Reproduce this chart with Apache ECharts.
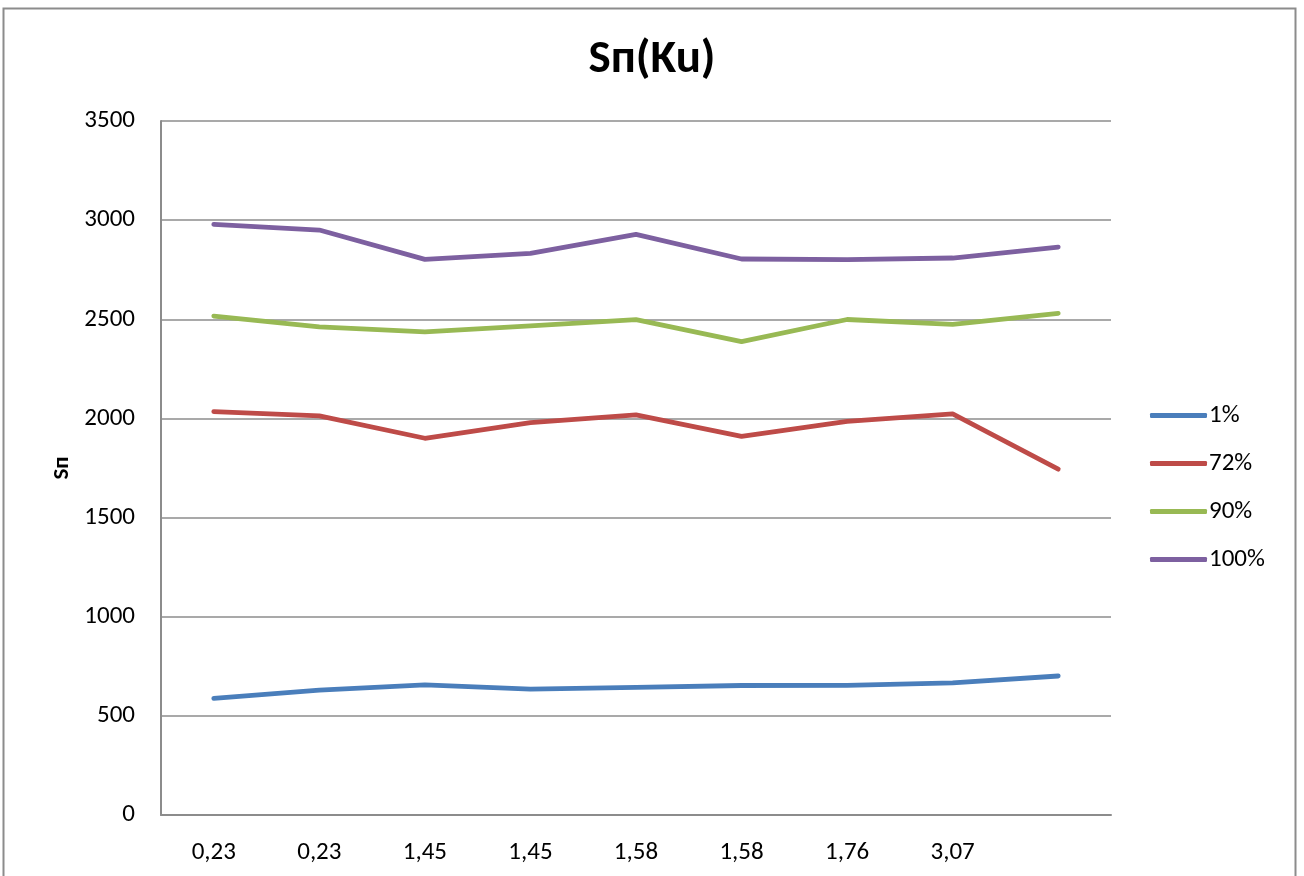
<!DOCTYPE html>
<html>
<head>
<meta charset="utf-8">
<title>Sп(Ku)</title>
<script src="https://cdn.jsdelivr.net/npm/echarts@6/dist/echarts.min.js"></script>
<style>
  html, body { margin: 0; padding: 0; background: #ffffff; }
  #chart { width: 1304px; height: 876px; }
</style>
</head>
<body>
<div id="chart"></div>
<script>
// Ku values along the x axis (the last point has no label)
const categories = ['0,23', '0,23', '1,45', '1,45', '1,58', '1,58', '1,76', '3,07', ''];

// Sп values per series
const s1 = [588, 630, 656, 635, 644, 653, 654, 666, 701];
const s72 = [2034, 2013, 1900, 1979, 2018, 1910, 1985, 2023, 1744];
const s90 = [2516, 2462, 2437, 2467, 2498, 2387, 2499, 2474, 2530];
const s100 = [2979, 2950, 2802, 2832, 2928, 2804, 2801, 2809, 2864];

const yTicks = { min: 0, max: 3500, interval: 500 };

const seriesNames = ['1%', '72%', '90%', '100%'];
const seriesData = [s1, s72, s90, s100];
const colors = ['#4a7ebb', '#be4b48', '#98b954', '#7d60a0'];

const FONT = "Carlito, 'Liberation Sans Narrow', 'Open Sans', sans-serif";
const AXIS_GRAY = '#8c8c8c';

const chart = echarts.init(document.getElementById('chart'));

chart.setOption({
  animation: false,
  backgroundColor: '#ffffff',
  color: colors,
  title: {
    text: 'Sп(Ku)',
    left: 'center',
    top: 32,
    textStyle: { fontFamily: FONT, fontSize: 47, fontWeight: 'bold', color: '#000000' }
  },
  graphic: [{
    type: 'rect',
    silent: true,
    shape: { x: 3.5, y: 8.5, width: 1292, height: 900 },
    style: { fill: 'none', stroke: '#8c8c8c', lineWidth: 2 }
  }],
  legend: {
    orient: 'vertical',
    left: 1150,
    top: 403,
    padding: 0,
    itemGap: 23,
    itemWidth: 57,
    itemHeight: 5,
    icon: 'roundRect',
    textStyle: { fontFamily: FONT, fontSize: 25, lineHeight: 25, color: '#000000', padding: [0, 0, 0, -3] },
    data: seriesNames
  },
  grid: { left: 161, right: 193, top: 121, bottom: 61, containLabel: false },
  xAxis: {
    type: 'category',
    data: categories,
    boundaryGap: true,
    axisLine: { show: true, lineStyle: { color: AXIS_GRAY, width: 2 } },
    axisTick: { show: false },
    axisLabel: {
      interval: 0,
      margin: 25,
      fontFamily: FONT,
      fontSize: 25,
      color: '#000000'
    },
    splitLine: { show: false }
  },
  yAxis: {
    type: 'value',
    min: yTicks.min,
    max: yTicks.max,
    interval: yTicks.interval,
    name: 'Sп',
    nameLocation: 'middle',
    nameGap: 87,
    nameRotate: 90,
    nameTextStyle: { fontFamily: FONT, fontSize: 23, fontWeight: 'bold', color: '#000000' },
    axisLine: { show: true, lineStyle: { color: AXIS_GRAY, width: 2 } },
    axisTick: { show: false },
    axisLabel: {
      margin: 26,
      fontFamily: FONT,
      fontSize: 25,
      color: '#000000',
      formatter: v => String(v)
    },
    splitLine: { show: true, lineStyle: { color: AXIS_GRAY, width: 1.5 } }
  },
  series: seriesNames.map((n, i) => ({
    name: n,
    type: 'line',
    data: seriesData[i],
    symbol: 'none',
    showSymbol: false,
    lineStyle: { color: colors[i], width: 4.8, cap: 'round', join: 'round' },
    itemStyle: { color: colors[i] }
  }))
});
</script>
</body>
</html>
